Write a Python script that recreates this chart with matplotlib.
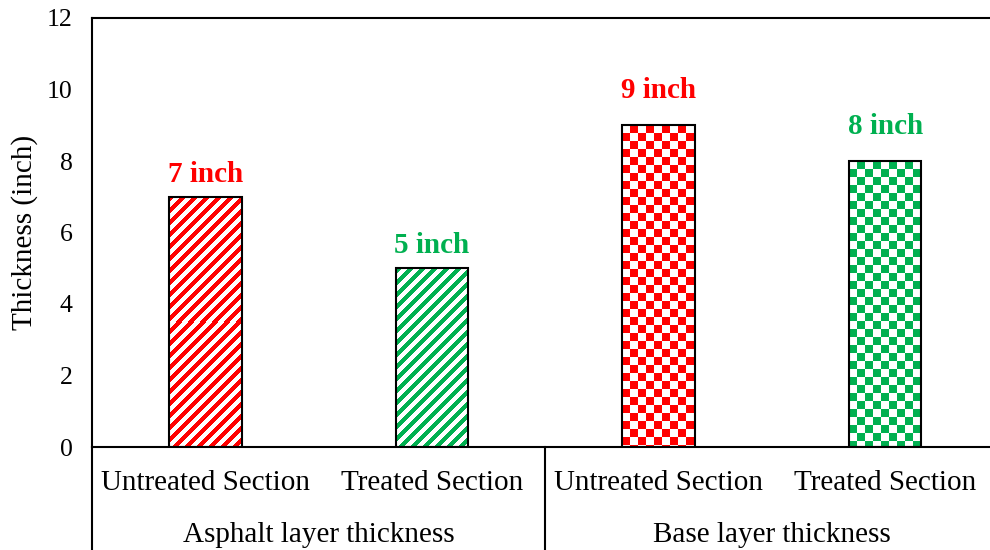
import matplotlib.pyplot as plt
import matplotlib.transforms as mtransforms
import numpy as np

plt.rcParams['font.family'] = ['Liberation Serif', 'DejaVu Serif']

# data
sections = ['Untreated Section', 'Treated Section', 'Untreated Section', 'Treated Section']
groups = ['Asphalt layer thickness', 'Base layer thickness']
thickness = [7, 5, 9, 8]
labels = ['7 inch', '5 inch', '9 inch', '8 inch']
colors = ['#FF0000', '#00B050', '#FF0000', '#00B050']
patterns = ['stripe', 'stripe', 'checker', 'checker']
label_gap = [0.25, 0.25, 0.6, 0.6]

W, H, DPI = 990, 550, 100
fig = plt.figure(figsize=(W / DPI, H / DPI), dpi=DPI)
# plot area runs past the right edge of the picture
ax = fig.add_axes([92 / W, 103 / H, (998.5 - 92) / W, (447 - 18) / H])

x = np.arange(len(thickness))
bw = 0.32
ax.set_xlim(-0.5, len(thickness) - 0.5)
ax.set_ylim(0, 12)


def pattern_image(kind, color, w_px, h_px):
    rows, cols = np.indices((h_px, w_px))
    if kind == 'stripe':
        mask = ((cols + rows) % 12) < 6
    else:
        mask = ((cols // 8 + rows // 8) % 2) == 1
    rgb = np.array(plt.matplotlib.colors.to_rgb(color))
    img = np.ones((h_px, w_px, 3))
    img[mask] = rgb
    return img


px_x = ax.transData.transform((1, 0))[0] - ax.transData.transform((0, 0))[0]
px_y = ax.transData.transform((0, 1))[1] - ax.transData.transform((0, 0))[1]

for xi, v, c, p, lab, gap in zip(x, thickness, colors, patterns, labels, label_gap):
    x0, x1 = xi - bw / 2, xi + bw / 2
    img = pattern_image(p, c, int(round(bw * px_x)), int(round(v * px_y)))
    ax.imshow(img, extent=(x0, x1, 0, v), origin='upper', aspect='auto',
              interpolation='nearest', zorder=1)
    ax.bar(xi, v, width=bw, facecolor='none', edgecolor='black', linewidth=1.5, zorder=2)
    ax.text(xi, v + gap, lab, ha='center', va='bottom', color=c,
            fontsize=21, fontweight='bold')

ax.set_xlim(-0.5, len(thickness) - 0.5)
ax.set_ylim(0, 12)
ax.set_yticks(np.arange(0, 13, 2))
ax.tick_params(axis='y', length=0, labelsize=18.5, pad=14)
ax.set_xticks([])
ax.set_ylabel('Thickness (inch)', fontsize=21, labelpad=6)
for s in ['left', 'top', 'bottom']:
    ax.spines[s].set_linewidth(1.5)
ax.spines['right'].set_visible(False)

# two-level category axis
trans = mtransforms.blended_transform_factory(ax.transData, ax.transAxes)
for xi, s in zip(x, sections):
    ax.text(xi, -36 / 429, s, transform=trans, ha='center', va='center', fontsize=21)
for gi, g in enumerate(groups):
    ax.text(gi * 2 + 0.5, -88 / 429, g, transform=trans, ha='center', va='center', fontsize=21)
for xs in [-0.5, 1.5]:
    ax.plot([xs, xs], [0, -0.3], transform=trans, color='black', linewidth=1.5, clip_on=False)

fig.savefig('out.png', dpi=DPI)
